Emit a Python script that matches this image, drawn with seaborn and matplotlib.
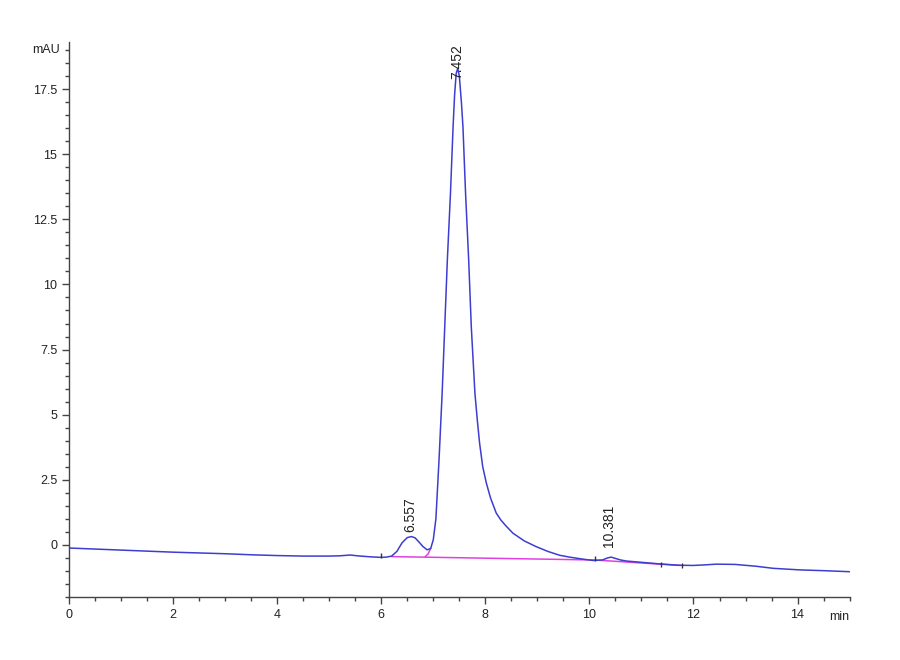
import matplotlib
matplotlib.use("Agg")
import matplotlib.pyplot as plt
from matplotlib.ticker import MultipleLocator
import seaborn as sns
import pandas as pd

sns.set_style("ticks")
plt.rcParams['font.family'] = ['Liberation Sans', 'DejaVu Sans']

# Chromatogram trace (min, mAU)
time_min = [0, 0.5, 1, 1.5, 2, 2.5, 3, 3.5, 4, 4.5, 5, 5.2, 5.4, 5.6, 5.8, 6.0,
            6.1, 6.2, 6.3, 6.4, 6.5, 6.58, 6.65, 6.72, 6.8, 6.88, 6.95, 7.0,
            7.05, 7.11, 7.17, 7.22, 7.27, 7.33, 7.38, 7.41, 7.44, 7.47, 7.5,
            7.54, 7.57, 7.62, 7.68, 7.73, 7.8, 7.85, 7.89, 7.95, 8.02, 8.1,
            8.21, 8.3, 8.4, 8.53, 8.75, 8.98, 9.2, 9.43, 9.62, 9.85, 10.07,
            10.25, 10.35, 10.42, 10.5, 10.6, 10.71, 11.0, 11.35, 11.7, 11.99,
            12.2, 12.44, 12.8, 13.2, 13.53, 14.04, 14.5, 15.0]
signal_mau = [-0.12, -0.16, -0.2, -0.24, -0.28, -0.31, -0.34, -0.38, -0.41,
              -0.43, -0.43, -0.42, -0.39, -0.43, -0.46, -0.48,
              -0.47, -0.43, -0.25, 0.08, 0.28, 0.32, 0.27, 0.12, -0.06, -0.19,
              -0.14, 0.2,
              1.0, 3.26, 5.82, 8.38, 10.94, 13.5, 16.05, 17.3, 18.1, 18.3, 18.0,
              17.0, 16.05, 13.5, 10.94, 8.38, 5.82, 4.7, 3.9, 3.0, 2.37, 1.8,
              1.22, 0.95, 0.72, 0.45, 0.15, -0.07, -0.25, -0.4, -0.47, -0.54, -0.6,
              -0.58, -0.5, -0.47, -0.52, -0.58, -0.62, -0.67, -0.73, -0.78, -0.79,
              -0.77, -0.74, -0.75, -0.82, -0.9, -0.96, -0.99, -1.03]

# Integration baseline
base_time = [6.2, 10.1, 11.75]
base_mau = [-0.45, -0.58, -0.79]
drop_time = [6.95, 6.9, 6.84]
drop_mau = [-0.13, -0.35, -0.46]

# Peak labels
peak_rt = [6.557, 7.452, 10.381]
peak_top = [0.32, 18.3, -0.47]
peak_text = ["6.557", "7.452", "10.381"]
label_shift = [3, -8, 7]

# Event marks
event_time = [6.0, 10.1, 11.38, 11.77]
event_lo = [-0.52, -0.62, -0.85, -0.9]
event_hi = [-0.3, -0.44, -0.65, -0.7]

trace = pd.DataFrame({"time": time_min, "mAU": signal_mau})
base = pd.DataFrame({"time": base_time, "mAU": base_mau})
drop = pd.DataFrame({"time": drop_time, "mAU": drop_mau})

fig = plt.figure(figsize=(9, 6.6), dpi=100)
ax = fig.add_axes([0.0767, 0.0955, 0.8673, 0.8405])

sns.lineplot(data=base, x="time", y="mAU", ax=ax, color="#e040e0", lw=1.1, sort=False)
sns.lineplot(data=drop, x="time", y="mAU", ax=ax, color="#e040e0", lw=1.1, sort=False)
sns.lineplot(data=trace, x="time", y="mAU", ax=ax, color="#3d3dd0", lw=1.1, sort=False)

ax.vlines(event_time, event_lo, event_hi, color="#333333", lw=1)

for rt, top, txt, sh in zip(peak_rt, peak_top, peak_text, label_shift):
    ax.annotate(txt, (rt, top), xytext=(0, sh), textcoords="offset points",
                rotation=90, ha="center", va="bottom", fontsize=10, color="#222222")

ax.set_xlim(0, 15)
ax.set_ylim(-2, 19.3)
ax.xaxis.set_minor_locator(MultipleLocator(0.5))
ax.yaxis.set_minor_locator(MultipleLocator(0.5))
ax.set_yticks([0, 2.5, 5, 7.5, 10, 12.5, 15, 17.5])
ax.set_yticklabels(["0", "2.5", "5", "7.5", "10", "12.5", "15", "17.5"])
ax.set_xticks([0, 2, 4, 6, 8, 10, 12, 14])
ax.tick_params(which="major", direction="out", length=5, width=1,
               colors="#444444", labelsize=9, labelcolor="#222222")
ax.tick_params(which="minor", direction="out", length=3, width=1, colors="#444444")
ax.set_xlabel("")
ax.set_ylabel("")
sns.despine(ax=ax)
for s in ("left", "bottom"):
    ax.spines[s].set_color("#444444")
    ax.spines[s].set_linewidth(1)

ax.text(-0.012, 19.0, "mAU", transform=ax.get_yaxis_transform(), ha="right",
        va="center", fontsize=9, color="#222222")
ax.text(14.8, -0.025, "min", transform=ax.get_xaxis_transform(), ha="center",
        va="top", fontsize=9, color="#222222")

fig.savefig("out.png", dpi=100)
